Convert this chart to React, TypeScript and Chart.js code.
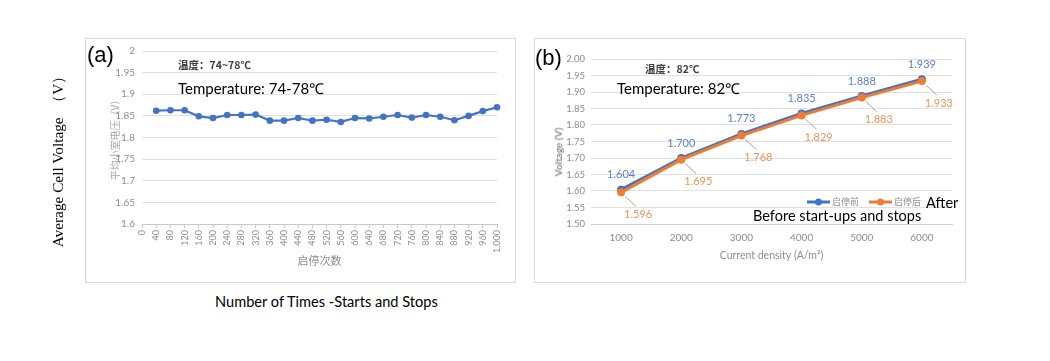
import React, { useEffect, useRef } from "react";
import { Chart, registerables } from "chart.js";
Chart.register(...registerables);

// ---------- data ----------
const cycleLabels = ["0", "40", "80", "120", "160", "200", "240", "280", "320", "360", "400", "440", "480", "520", "560", "600", "640", "680", "720", "760", "800", "840", "880", "920", "960", "1,000"];
// average cell voltage at 40, 80, ..., 1000 start/stop cycles
const avgCellVoltage = [1.862, 1.863, 1.863, 1.849, 1.845, 1.852, 1.852, 1.853, 1.839, 1.839, 1.845, 1.839, 1.841, 1.836, 1.845, 1.844, 1.848, 1.852, 1.846, 1.852, 1.848, 1.840, 1.850, 1.861, 1.870];

const densityLabels = ["1000", "2000", "3000", "4000", "5000", "6000"];
const voltageBefore = [1.604, 1.7, 1.773, 1.835, 1.888, 1.939];
const voltageAfter = [1.596, 1.695, 1.768, 1.829, 1.883, 1.933];
const seriesNames = ["启停前", "启停后"];

const BLUE = "#4472C4";
const ORANGE = "#ED7D31";
const BLUE_TXT = "#5B7FC7";
const ORANGE_TXT = "#E8955A";
const TICK = "#8c8c8c";
const GRID = "#e0e0e0";
const LATO = "Lato, 'Liberation Sans', sans-serif";
const CJK = "'Noto Sans CJK SC', sans-serif";

function LeftChart() {
  const ref = useRef<HTMLCanvasElement>(null);
  useEffect(() => {
    const chart = new Chart(ref.current!, {
      type: "line",
      data: {
        labels: cycleLabels,
        datasets: [
          {
            data: [null, ...avgCellVoltage],
            borderColor: BLUE,
            backgroundColor: BLUE,
            pointBackgroundColor: BLUE,
            pointBorderColor: BLUE,
            pointRadius: 3.3,
            pointBorderWidth: 0,
            borderWidth: 2.2,
            tension: 0,
          },
        ],
      },
      options: {
        responsive: false,
        animation: false,
        devicePixelRatio: 1,
        layout: { padding: { left: 0, top: 13, right: 18, bottom: 0 } },
        plugins: { legend: { display: false }, tooltip: { enabled: false } },
        scales: {
          x: {
            type: "category",
            offset: false,
            grid: { display: true, drawOnChartArea: false, drawTicks: true, tickLength: 4, color: "#c8c8c8" },
            border: { color: "#c8c8c8" },
            ticks: { minRotation: 90, maxRotation: 90, autoSkip: false, color: TICK, font: { family: LATO, size: 9 }, padding: 2 },
            title: { display: true, text: "启停次数", color: TICK, font: { family: CJK, size: 11 }, padding: { top: 0, bottom: 16 } },
            afterFit: (s: any) => { s.height = 59; },
          },
          y: {
            min: 1.6,
            max: 2,
            ticks: {
              stepSize: 0.05,
              color: TICK,
              font: { family: LATO, size: 10 },
              padding: 7,
              callback: (v: any) => String(Number(Number(v).toFixed(2))),
            },
            grid: { color: GRID, drawTicks: false },
            border: { display: false },
            title: { display: true, text: "平均小室电压（V）", color: "#a6a6a6", font: { family: CJK, size: 10 }, padding: { top: 24, bottom: 0 } },
            afterFit: (s: any) => { s.width = 57; },
          },
        },
      },
    });
    return () => chart.destroy();
  }, []);
  return <canvas ref={ref} width={430} height={245} style={{ position: "absolute", left: 85, top: 38 }} />;
}

const valueLabelPlugin = {
  id: "valueLabels",
  afterDatasetsDraw(chart: any) {
    const ctx = chart.ctx;
    ctx.save();
    ctx.font = `11px ${LATO}`;
    ctx.textAlign = "center";
    ctx.textBaseline = "middle";
    chart.data.datasets.forEach((ds: any, i: number) => {
      const meta = chart.getDatasetMeta(i);
      meta.data.forEach((pt: any, j: number) => {
        const txt = Number(ds.data[j]).toFixed(3);
        if (i === 0) {
          ctx.fillStyle = BLUE_TXT;
          ctx.fillText(txt, pt.x, pt.y - 15);
        } else {
          ctx.strokeStyle = "#a6a6a6";
          ctx.lineWidth = 1;
          ctx.beginPath();
          ctx.moveTo(pt.x + 4, pt.y + 4);
          ctx.lineTo(pt.x + 15, pt.y + 14);
          ctx.stroke();
          ctx.fillStyle = ORANGE_TXT;
          ctx.fillText(txt, pt.x + 17, pt.y + 22);
        }
      });
    });
    ctx.restore();
  },
};

const innerLegendPlugin = {
  id: "innerLegend",
  afterDraw(chart: any) {
    const { ctx, chartArea } = chart;
    ctx.save();
    let x = chartArea.right - 145;
    const y = chartArea.bottom - 22;
    ctx.font = `9px ${CJK}`;
    ctx.textBaseline = "middle";
    ctx.textAlign = "left";
    chart.data.datasets.forEach((ds: any) => {
      ctx.strokeStyle = ds.borderColor;
      ctx.lineWidth = 3;
      ctx.beginPath();
      ctx.moveTo(x, y);
      ctx.lineTo(x + 23, y);
      ctx.stroke();
      ctx.fillStyle = ds.borderColor;
      ctx.beginPath();
      ctx.arc(x + 11.5, y, 3.5, 0, Math.PI * 2);
      ctx.fill();
      ctx.fillStyle = TICK;
      ctx.fillText(ds.label, x + 25, y);
      x += 25 + ctx.measureText(ds.label).width + 10;
    });
    ctx.restore();
  },
};

function RightChart() {
  const ref = useRef<HTMLCanvasElement>(null);
  useEffect(() => {
    const chart = new Chart(ref.current!, {
      type: "line",
      data: {
        labels: densityLabels,
        datasets: [
          {
            label: seriesNames[0],
            data: voltageBefore,
            borderColor: BLUE,
            backgroundColor: BLUE,
            pointBackgroundColor: BLUE,
            pointBorderColor: BLUE,
            pointRadius: 4,
            pointBorderWidth: 0,
            borderWidth: 3,
            tension: 0,
            order: 1,
          },
          {
            label: seriesNames[1],
            data: voltageAfter,
            borderColor: ORANGE,
            backgroundColor: ORANGE,
            pointBackgroundColor: ORANGE,
            pointBorderColor: ORANGE,
            pointRadius: 4,
            pointBorderWidth: 0,
            borderWidth: 3,
            tension: 0,
            order: 0,
          },
        ],
      },
      options: {
        responsive: false,
        animation: false,
        devicePixelRatio: 1,
        layout: { padding: { left: 0, top: 21, right: 13, bottom: 0 } },
        plugins: { legend: { display: false }, tooltip: { enabled: false } },
        scales: {
          x: {
            type: "category",
            offset: true,
            grid: { display: false, drawTicks: false },
            border: { color: "#d0d0d0" },
            ticks: { color: TICK, font: { family: LATO, size: 10 }, padding: 8 },
            title: { display: true, text: "Current density (A/m²)", color: TICK, font: { family: LATO, size: 10.5 }, padding: { top: 0, bottom: 21 } },
            afterFit: (s: any) => { s.height = 59; },
          },
          y: {
            min: 1.5,
            max: 2.0,
            ticks: {
              stepSize: 0.05,
              color: TICK,
              font: { family: LATO, size: 9.5 },
              padding: 6,
              callback: (v: any) => Number(v).toFixed(2),
            },
            grid: { color: GRID, drawTicks: false },
            border: { display: false },
            title: { display: false },
            afterFit: (s: any) => { s.width = 57; },
          },
        },
      },
      plugins: [valueLabelPlugin, innerLegendPlugin],
    });
    return () => chart.destroy();
  }, []);
  return <canvas ref={ref} width={431} height={245} style={{ position: "absolute", left: 534, top: 38 }} />;
}

function Txt(props: { x: number; cy: number; size: number; family?: string; weight?: any; color?: string; children: any }) {
  return (
    <div
      style={{
        position: "absolute",
        left: props.x,
        top: props.cy,
        transform: "translateY(-50%)",
        fontSize: props.size,
        fontFamily: props.family || LATO,
        fontWeight: props.weight || "normal",
        color: props.color || "#000",
        whiteSpace: "nowrap",
        lineHeight: 1.2,
      }}
    >
      {props.children}
    </div>
  );
}

function VTxt(props: { cx: number; cy: number; size: number; family?: string; weight?: any; color?: string; children: any }) {
  return (
    <div
      style={{
        position: "absolute",
        left: props.cx,
        top: props.cy,
        transform: "translate(-50%, -50%) rotate(-90deg)",
        fontSize: props.size,
        fontFamily: props.family || LATO,
        fontWeight: props.weight || "normal",
        color: props.color || "#000",
        whiteSpace: "nowrap",
        lineHeight: 1.2,
      }}
    >
      {props.children}
    </div>
  );
}

export default function App() {
  const box = (left: number, width: number) => ({
    position: "absolute" as const,
    left,
    top: 38,
    width,
    height: 245,
    border: "1px solid #d9d9d9",
    boxSizing: "border-box" as const,
  });
  return (
    <div style={{ position: "absolute", left: 0, top: 0, width: 1050, height: 361, background: "#fff", overflow: "hidden" }}>
      <div style={box(85, 431)} />
      <div style={box(534, 432)} />
      <LeftChart />
      <RightChart />
      <Txt x={87} cy={55} size={22} family="'Liberation Sans', Arial, sans-serif">(a)</Txt>
      <Txt x={535} cy={58} size={22} family="'Liberation Sans', Arial, sans-serif">(b)</Txt>
      <Txt x={178} cy={65} size={10.5} family={CJK} weight="bold" color="#404040">温度：74~78℃</Txt>
      <Txt x={178} cy={88} size={15}>Temperature: 74-78℃</Txt>
      <Txt x={645} cy={69} size={10.5} family={CJK} weight="bold" color="#404040">温度：82℃</Txt>
      <Txt x={617} cy={88} size={15}>Temperature: 82℃</Txt>
      <Txt x={926} cy={203} size={14.5}>After</Txt>
      <Txt x={753} cy={216} size={14.5}>Before start-ups and stops</Txt>
      <Txt x={215} cy={302} size={14.6}>Number of Times -Starts and Stops</Txt>
      <VTxt cx={58} cy={158} size={15.3} family="'Liberation Serif', 'Times New Roman', serif">{"Average Cell Voltage\u00a0 （V）"}</VTxt>
      <VTxt cx={557.5} cy={152} size={10} weight="bold" color={TICK}>Voltage (V)</VTxt>
    </div>
  );
}
